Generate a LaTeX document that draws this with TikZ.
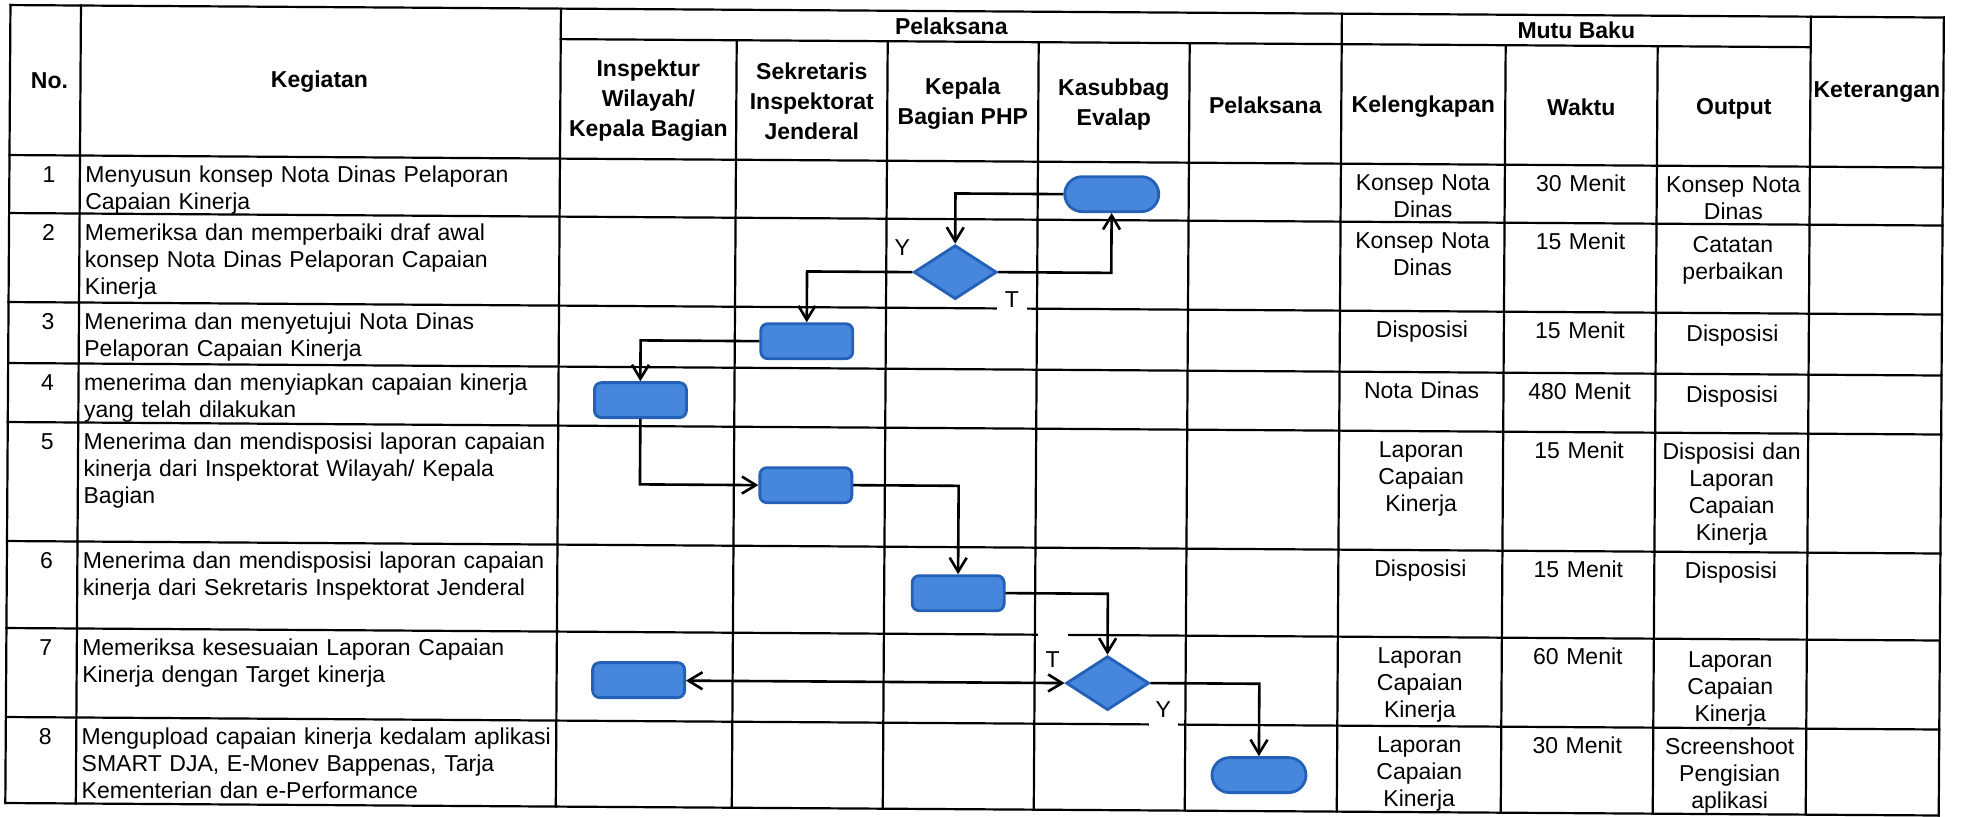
\documentclass[tikz,border=0pt]{standalone}
\usepackage{fontspec}
\setmainfont{Liberation Sans}
\usetikzlibrary{shapes.geometric,shapes.misc,arrows.meta}
\definecolor{boxfill}{RGB}{70,134,220}
\definecolor{boxline}{RGB}{36,96,182}
\begin{document}
\begin{tikzpicture}[x=0.5pt,y=-0.5pt,
  tline/.style={line width=1.1pt,black,line cap=rect},
  body/.style={inner sep=0pt,font=\fontsize{11.5}{13.5}\selectfont},
  keg/.style={body,anchor=north west,text width=238pt,align=left},
  cell/.style={body,anchor=north,text width=76pt,align=center},
  num/.style={body,anchor=north},
  hdr/.style={inner sep=0pt,font=\fontsize{11.5}{15}\selectfont\bfseries,align=center},
  act/.style={rectangle,rounded corners=3.5pt,draw=boxline,fill=boxfill,line width=1.4pt,minimum width=46pt,minimum height=17.5pt,inner sep=0pt},
  term/.style={rounded rectangle,draw=boxline,fill=boxfill,line width=1.4pt,minimum width=47pt,minimum height=17.5pt,inner sep=0pt},
  dec/.style={diamond,draw=boxline,fill=boxfill,line width=1.4pt,minimum width=41.5pt,minimum height=27pt,inner sep=0pt},
  flow/.style={line width=1.3pt,-{Straight Barb[length=7pt,width=8.5pt]}},
  dflow/.style={line width=1.3pt,{Straight Barb[length=7pt,width=8.5pt]}-{Straight Barb[length=7pt,width=8.5pt]}},
  lbl/.style={inner sep=0pt,font=\fontsize{11.5}{13.5}\selectfont}
]
\fill[white] (0,0) rectangle (1963,817);
\useasboundingbox (0,0) rectangle (1963,817);
\begin{scope}[rotate around={-0.37:(0,0)}]
% table lines
\draw[tline] (10.5,5) -- (1944,5);
\draw[tline] (561,35.5) -- (1811,35.5);
\foreach \yy in {155,213,302,363,422,541,628,717,803} \draw[tline] (10.5,\yy) -- (1944,\yy);
\foreach \xx in {10.5,81,561,1342,1811,1944} \draw[tline] (\xx,5) -- (\xx,803);
\foreach \xx in {737,888,1039,1190,1506,1658} \draw[tline] (\xx,35.5) -- (\xx,803);

% header
\node[hdr] (hno) at (50,80) {No.};
\node[hdr] (hkeg) at (320,80) {Kegiatan};
\node[hdr] (hpel) at (951.5,20) {Pelaksana};
\node[hdr] (hmutu) at (1576.5,20) {Mutu Baku};
\node[hdr] (hins) at (649,96) {Inspektur\\Wilayah/\\Kepala Bagian};
\node[hdr] (hsek) at (812.5,96) {Sekretaris\\Inspektorat\\Jenderal};
\node[hdr] (hkep) at (963.5,97) {Kepala\\Bagian PHP};
\node[hdr] (hkas) at (1114.5,97) {Kasubbag\\Evalap};
\node[hdr] (hpl) at (1266,97) {Pelaksana};
\node[hdr] (hkel) at (1424,97) {Kelengkapan};
\node[hdr] (hwak) at (1582,97) {Waktu};
\node[hdr] (hout) at (1734.5,98) {Output};
\node[hdr] (hket) at (1877.5,80) {Keterangan};

% row 1
\node[num] (n1) at (50,162.5) {\strut 1};
\node[keg] (k1) at (86,162.5) {\strut Menyusun konsep Nota Dinas Pelaporan\\Capaian Kinerja};
\node[cell] (l1) at (1424,162.5) {\strut Konsep Nota\\Dinas};
\node[cell] (w1) at (1582,162.5) {\strut 30 Menit};
\node[cell] (o1) at (1734.5,162.5) {\strut Konsep Nota\\Dinas};
% row 2
\node[num] (n2) at (50,220.5) {\strut 2};
\node[keg] (k2) at (86,220.5) {\strut Memeriksa dan memperbaiki draf awal\\konsep Nota Dinas Pelaporan Capaian\\Kinerja};
\node[cell] (l2) at (1424,220.5) {\strut Konsep Nota\\Dinas};
\node[cell] (w2) at (1582,220.5) {\strut 15 Menit};
\node[cell] (o2) at (1734.5,222.5) {\strut Catatan\\perbaikan};
% row 3
\node[num] (n3) at (50,309.5) {\strut 3};
\node[keg] (k3) at (86,309.5) {\strut Menerima dan menyetujui Nota Dinas\\Pelaporan Capaian Kinerja};
\node[cell] (l3) at (1424,309.5) {\strut Disposisi};
\node[cell] (w3) at (1582,309.5) {\strut 15 Menit};
\node[cell] (o3) at (1734.5,311.5) {\strut Disposisi};
% row 4
\node[num] (n4) at (50,370.5) {\strut 4};
\node[keg] (k4) at (86,370.5) {\strut menerima dan menyiapkan capaian kinerja\\yang telah dilakukan};
\node[cell] (l4) at (1424,370.5) {\strut Nota Dinas};
\node[cell] (w4) at (1582,370.5) {\strut 480 Menit};
\node[cell] (o4) at (1734.5,372.5) {\strut Disposisi};
% row 5
\node[num] (n5) at (50,429.5) {\strut 5};
\node[keg] (k5) at (86,429.5) {\strut Menerima dan mendisposisi laporan capaian\\kinerja dari Inspektorat Wilayah/ Kepala\\Bagian};
\node[cell] (l5) at (1424,429.5) {\strut Laporan\\Capaian\\Kinerja};
\node[cell] (w5) at (1582,429.5) {\strut 15 Menit};
\node[cell] (o5) at (1734.5,429.5) {\strut Disposisi dan\\Laporan\\Capaian\\Kinerja};
% row 6
\node[num] (n6) at (50,548.5) {\strut 6};
\node[keg] (k6) at (86,548.5) {\strut Menerima dan mendisposisi laporan capaian\\kinerja dari Sekretaris Inspektorat Jenderal};
\node[cell] (l6) at (1424,548.5) {\strut Disposisi};
\node[cell] (w6) at (1582,548.5) {\strut 15 Menit};
\node[cell] (o6) at (1734.5,548.5) {\strut Disposisi};
% row 7
\node[num] (n7) at (50,635.5) {\strut 7};
\node[keg] (k7) at (86,635.5) {\strut Memeriksa kesesuaian Laporan Capaian\\Kinerja dengan Target kinerja};
\node[cell] (l7) at (1424,635.5) {\strut Laporan\\Capaian\\Kinerja};
\node[cell] (w7) at (1582,635.5) {\strut 60 Menit};
\node[cell] (o7) at (1734.5,637.5) {\strut Laporan\\Capaian\\Kinerja};
% row 8
\node[num] (n8) at (50,724.5) {\strut 8};
\node[keg] (k8) at (86,724.5) {\strut Mengupload capaian kinerja kedalam aplikasi\\SMART DJA, E-Monev Bappenas, Tarja\\Kementerian dan e-Performance};
\node[cell] (l8) at (1424,724.5) {\strut Laporan\\Capaian\\Kinerja};
\node[cell] (w8) at (1582,724.5) {\strut 30 Menit};
\node[cell] (o8) at (1734.5,724.5) {\strut Screenshoot\\Pengisian\\aplikasi};

% decision labels
\node[lbl] (ya) at (904,242) {Y};
\node[lbl,fill=white,anchor=base,minimum width=15pt,inner ysep=3pt] (ta) at (1014,301) {T};
\node[lbl,fill=white,anchor=base,minimum width=15pt,text height=15.5pt,text depth=0pt,inner ysep=3.5pt] (tb) at (1057,661) {T};
\node[lbl,fill=white,anchor=base,minimum width=14.5pt,inner ysep=5pt] (yb) at (1168,710) {Y};

% flow shapes
\node[term] (s1) at (1113,187) {};
\node[dec] (s2) at (957,266) {};
\node[act] (s3) at (809,336) {};
\node[act] (s4) at (643,396) {};
\node[act] (s5) at (809,480) {};
\node[act] (s6) at (962,587) {};
\node[dec] (s7) at (1112,676) {};
\node[act] (s8) at (643,676) {};
\node[term] (s9) at (1264,767) {};

% connectors
\draw[flow] (s1.west) -| (s2.north);
\draw[flow] (s2.east) -| (s1.south);
\draw[flow] (s2.west) -| (s3.north);
\draw[flow] (s3.west) -| (s4.north);
\draw[flow] (s4.south) |- (s5.west);
\draw[flow] (s5.east) -| (s6.north);
\draw[flow] (s6.east) -| (s7.north);
\draw[dflow] (s7.west) -- (s8.east |- s7.west);
\draw[flow] (s7.east) -| (s9.north);
\end{scope}
\end{tikzpicture}
\end{document}
